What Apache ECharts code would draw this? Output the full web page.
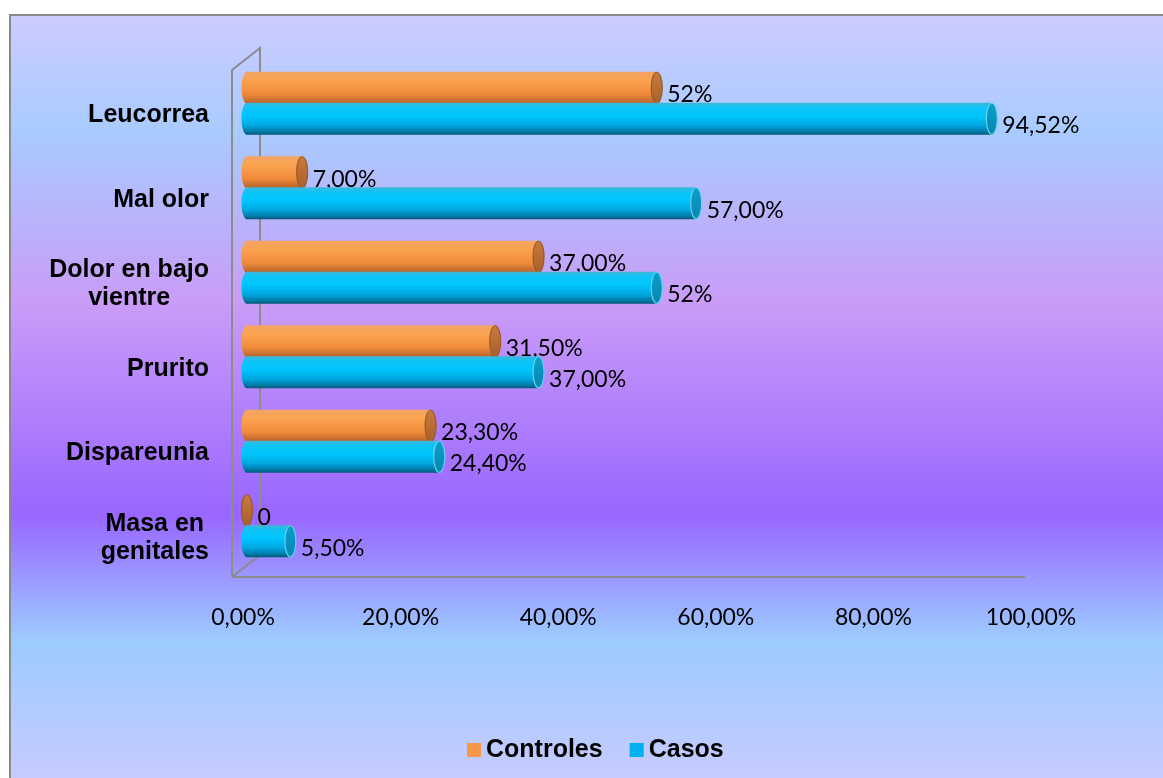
<!DOCTYPE html>
<html>
<head>
<meta charset="utf-8">
<script src="https://cdn.jsdelivr.net/npm/echarts@6/dist/echarts.min.js"></script>
<style>
  html, body { margin: 0; padding: 0; background: #ffffff; }
  #chart { width: 1163px; height: 778px; }
</style>
</head>
<body>
<div id="chart"></div>
<script>
// Síntomas por grupo (porcentaje)
const categories = ['Leucorrea', 'Mal olor', 'Dolor en bajo\nvientre', 'Prurito', 'Dispareunia', 'Masa en\ngenitales'];
const controles = [52, 7, 37, 31.5, 23.3, 0];
const casos = [94.52, 57, 52, 37, 24.4, 5.5];
const controlesLabels = ['52%', '7,00%', '37,00%', '31,50%', '23,30%', '0'];
const casosLabels = ['94,52%', '57,00%', '52%', '37,00%', '24,40%', '5,50%'];
const xTicks = [0, 20, 40, 60, 80, 100];
const xTickLabels = ['0,00%', '20,00%', '40,00%', '60,00%', '80,00%', '100,00%'];

const chart = echarts.init(document.getElementById('chart'), null, { renderer: 'canvas' });

const DEPTH_X = 4;      // bars sit slightly behind the front plane
const BAR_H = 32;
const CAP_RX = 5.5;

const styles = {
  Controles: {
    legend: '#f79646',
    body: [[0, '#f3a565'], [0.3, '#fba24e'], [0.7, '#ef8a3b'], [1, '#b3622a']],
    cap: [[0, '#c97a3c'], [1, '#a9602c']],
    capStroke: '#9c5a2a',
    offset: -15.5
  },
  Casos: {
    legend: '#00b0f0',
    body: [[0, '#3fb6d8'], [0.15, '#0ec4f6'], [0.4, '#00c6ff'], [0.7, '#00a8e0'], [0.88, '#0080b0'], [1, '#005878']],
    cap: [[0, '#0a9fcc'], [1, '#0786b0']],
    capStroke: '#63d3ec',
    offset: 15.5
  }
};

function grad(stops) {
  return new echarts.graphic.LinearGradient(0, 0, 0, 1, stops.map(s => ({ offset: s[0], color: s[1] })));
}

function cylinder(name, labels) {
  const st = styles[name];
  return function (params, api) {
    const v = api.value(0);
    const i = api.value(1);
    const p0 = api.coord([0, i]);
    const p1 = api.coord([v, i]);
    const ry = BAR_H / 2;
    const cy = p0[1] + st.offset;
    const xs = p0[0] + DEPTH_X;
    const xe = p1[0] + DEPTH_X;
    const children = [];
    if (xe - xs > 0.5) {
      children.push({
        type: 'ellipse',
        shape: { cx: xs, cy: cy, rx: CAP_RX, ry: ry },
        style: { fill: grad(st.body) }
      });
      children.push({
        type: 'rect',
        shape: { x: xs, y: cy - ry, width: xe - xs, height: BAR_H },
        style: { fill: grad(st.body) }
      });
    }
    children.push({
      type: 'ellipse',
      shape: { cx: xe, cy: cy, rx: CAP_RX, ry: ry - 0.5 },
      style: { fill: grad(st.cap), stroke: st.capStroke, lineWidth: 1.2 }
    });
    children.push({
      type: 'text',
      x: xe + CAP_RX + 5,
      y: cy + 7,
      style: {
        text: labels[params.dataIndex],
        fill: '#000000',
        font: '23px Lato',
        verticalAlign: 'middle',
        align: 'left'
      }
    });
    return { type: 'group', children: children };
  };
}

const option = {
  backgroundColor: '#ffffff',
  animation: false,
  grid: { left: 243, right: 132, top: 61, bottom: 210, containLabel: false },
  legend: {
    data: ['Controles', 'Casos'],
    left: 467,
    top: 736,
    padding: 0,
    itemGap: 27,
    itemWidth: 14,
    itemHeight: 14,
    icon: 'rect',
    textStyle: { fontFamily: 'Liberation Sans', fontWeight: 'bold', fontSize: 25, color: '#000', lineHeight: 28 }
  },
  xAxis: {
    type: 'value',
    min: 0,
    max: 100,
    interval: 20,
    axisLine: { show: false },
    axisTick: { show: false },
    splitLine: { show: false },
    axisLabel: {
      margin: 38,
      fontFamily: 'Lato',
      fontSize: 23,
      color: '#000',
      formatter: v => xTickLabels[xTicks.indexOf(v)]
    }
  },
  yAxis: {
    type: 'category',
    data: categories,
    inverse: true,
    axisLine: { show: false },
    axisTick: { show: false },
    splitLine: { show: false },
    axisLabel: {
      margin: 34,
      padding: [24, 0, 0, 0],
      formatter: v => v.split('\n').map(s => '{c|' + s + '}').join('\n'),
      rich: {
        c: { fontFamily: 'Liberation Sans', fontWeight: 'bold', fontSize: 25, color: '#000', align: 'center', lineHeight: 28 }
      }
    }
  },
  series: [
    {
      name: 'Controles',
      type: 'custom',
      itemStyle: { color: styles.Controles.legend },
      renderItem: cylinder('Controles', controlesLabels),
      encode: { x: 0, y: 1 },
      data: controles.map((v, i) => [v, i]),
      z: 3
    },
    {
      name: 'Casos',
      type: 'custom',
      itemStyle: { color: styles.Casos.legend },
      renderItem: cylinder('Casos', casosLabels),
      encode: { x: 0, y: 1 },
      data: casos.map((v, i) => [v, i]),
      z: 4
    }
  ]
};

chart.setOption(option);

// Chart frame, background and 3D walls, placed from the axis geometry
const x0 = chart.convertToPixel({ xAxisIndex: 0 }, 0);
const x100 = chart.convertToPixel({ xAxisIndex: 0 }, 100);
const yFirst = chart.convertToPixel({ yAxisIndex: 0 }, 0);
const yLast = chart.convertToPixel({ yAxisIndex: 0 }, categories.length - 1);
const band = (yLast - yFirst) / (categories.length - 1);
const gridTop = yFirst - band / 2;
const gridBottom = yLast + band / 2;

const frontX = x0 - 11;
const frontTop = gridTop + 9;
const frontBottom = gridBottom + 9;
const dx = 28, dy = -22;
const wallColor = '#8c8c8c';

chart.setOption({
  graphic: [
    {
      type: 'rect',
      z: -10,
      shape: { x: 10, y: 15, width: 1200, height: 780 },
      style: {
        fill: new echarts.graphic.LinearGradient(0, 0, 0, 1, [
          { offset: 0, color: '#cdccff' },
          { offset: 0.15, color: '#a9cbff' },
          { offset: 0.37, color: '#c99cf8' },
          { offset: 0.64, color: '#9966ff' },
          { offset: 0.8, color: '#9ccbff' },
          { offset: 1, color: '#cccbff' }
        ]),
        stroke: '#8a8a8a',
        lineWidth: 2
      }
    },
    {
      type: 'polyline',
      z: 0,
      shape: { points: [[frontX, frontBottom], [frontX, frontTop], [frontX + dx, frontTop + dy], [frontX + dx, frontBottom + dy], [frontX, frontBottom]] },
      style: { stroke: wallColor, lineWidth: 2, fill: null }
    },
    {
      type: 'line',
      z: 0,
      shape: { x1: frontX, y1: frontBottom, x2: x100 - 6, y2: frontBottom },
      style: { stroke: wallColor, lineWidth: 2 }
    }
  ]
});
</script>
</body>
</html>
